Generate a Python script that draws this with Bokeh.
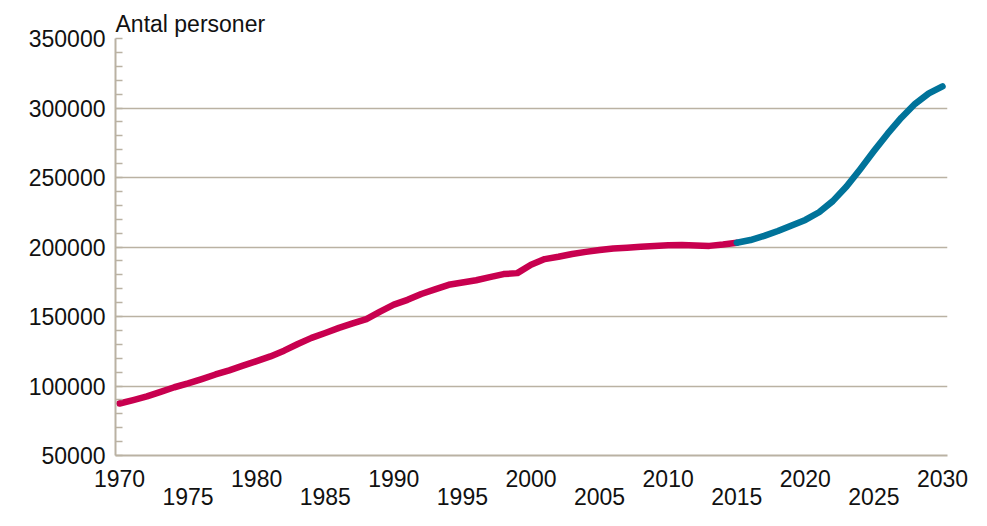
from bokeh.plotting import figure
from bokeh.models import LinearAxis, FixedTicker, Range1d, Title
from bokeh.embed import file_html
from bokeh.resources import INLINE

# ---- data ----
years_hist = list(range(1970, 2016))
pop_hist = [87400, 89900, 92500, 95800, 99100, 101900, 105000, 108300, 111300, 114600,
            117900, 121300, 125400, 130200, 134600, 138100, 141800, 145000, 148100, 153500,
            158500, 162000, 166200, 169500, 172800, 174500, 176100, 178300, 180500, 181200,
            187300, 191300, 193000, 195000, 196500, 197800, 198900, 199500, 200100, 200700,
            201200, 201400, 201000, 200800, 201800, 203100]
years_proj = list(range(2015, 2031))
pop_proj = [203100, 205000, 208000, 211500, 215500, 219500, 225000, 233000, 243500, 256000,
            269000, 281500, 293000, 303000, 310500, 315500]

y_ticks = [50000, 100000, 150000, 200000, 250000, 300000, 350000]
y_tick_labels = ["50000", "100000", "150000", "200000", "250000", "300000", "350000"]
y_minor = list(range(50000, 350001, 10000))
x_ticks_row1 = [1970, 1980, 1990, 2000, 2010, 2020, 2030]
x_ticks_row2 = [1975, 1985, 1995, 2005, 2015, 2025]
title_text = "Antal personer"

FONT = "Liberation Sans"
FS = "23px"
GRID = "#bab2a3"

p = figure(width=971, height=510, output_backend="svg", toolbar_location=None,
           x_range=Range1d(1969.708, 2030.364), y_range=Range1d(50000, 350000),
           x_axis_location=None,
           min_border_left=115, min_border_right=24, min_border_top=38, min_border_bottom=55)
p.outline_line_color = None
p.background_fill_color = "white"
p.border_fill_color = "white"

p.title = Title(text=title_text, align="left", text_font=FONT, text_font_size=FS,
                text_font_style="normal", text_color="#111111", standoff=4, offset=0)

# y axis
yax = p.yaxis[0]
yax.ticker = FixedTicker(ticks=y_ticks, minor_ticks=y_minor)
yax.major_label_overrides = {t: l for t, l in zip(y_ticks, y_tick_labels)}
yax.major_label_text_font = FONT
yax.major_label_text_font_size = FS
yax.major_label_text_color = "#111111"
yax.major_label_standoff = 10
yax.axis_line_color = GRID
yax.axis_line_width = 2
yax.major_tick_in = 0
yax.major_tick_out = 0
yax.minor_tick_in = 7
yax.minor_tick_out = 0
yax.minor_tick_line_color = GRID
yax.minor_tick_line_width = 1.5

p.ygrid.ticker = FixedTicker(ticks=y_ticks)
p.ygrid.grid_line_color = GRID
p.ygrid.grid_line_width = 1.5
p.xgrid.visible = False

ax1 = LinearAxis(ticker=FixedTicker(ticks=x_ticks_row1, minor_ticks=[]),
                 major_label_overrides={t: str(t) for t in x_ticks_row1})
ax2 = LinearAxis(ticker=FixedTicker(ticks=x_ticks_row2, minor_ticks=[]),
                 major_label_overrides={t: str(t) for t in x_ticks_row2})
for ax in (ax1, ax2):
    ax.major_label_text_font = FONT
    ax.major_label_text_font_size = FS
    ax.major_label_text_color = "#111111"
    ax.major_tick_in = 0
    ax.major_tick_out = 0
    ax.minor_tick_in = 0
    ax.minor_tick_out = 0
ax1.axis_line_color = GRID
ax1.axis_line_width = 2
ax1.major_label_standoff = 14
ax2.axis_line_color = None
ax2.major_label_standoff = -2
p.add_layout(ax1, "below")
p.add_layout(ax2, "below")

p.line(years_hist, pop_hist, line_color="#c8004f", line_width=6.5, line_cap="round", line_join="round")
p.line(years_proj, pop_proj, line_color="#00739a", line_width=6.5, line_cap="round", line_join="round")

open("out.html", "w").write(file_html(p, INLINE))
